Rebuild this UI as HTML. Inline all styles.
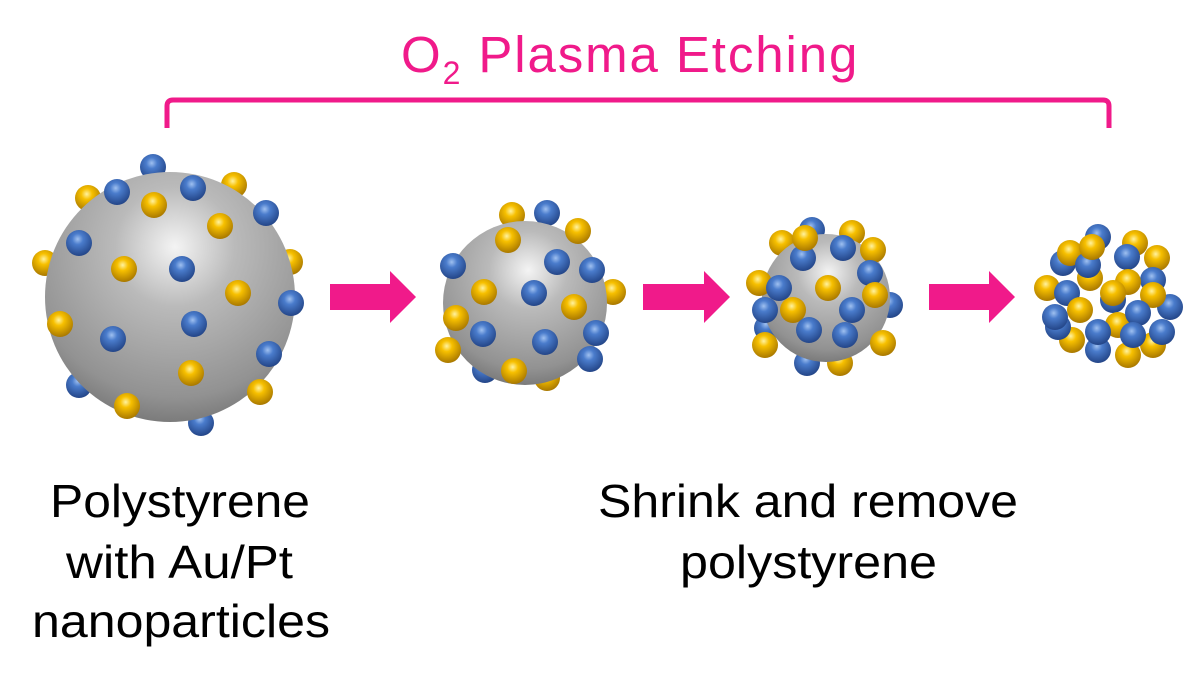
<!DOCTYPE html>
<html><head><meta charset="utf-8"><style>
html,body{margin:0;padding:0;background:#fff;}
svg{display:block;}
text{font-family:"Liberation Sans",Arial,sans-serif;}
</style></head><body>
<svg width="1185" height="680" viewBox="0 0 1185 680" xmlns="http://www.w3.org/2000/svg">
<defs>
<radialGradient id="gs" cx="0.52" cy="0.3" r="0.8">
<stop offset="0" stop-color="#f4f4f4"/><stop offset="0.3" stop-color="#bababa"/><stop offset="0.75" stop-color="#929292"/><stop offset="1" stop-color="#656565"/>
</radialGradient>
<radialGradient id="gb" cx="0.45" cy="0.35" r="0.7">
<stop offset="0" stop-color="#9fc0f0"/><stop offset="0.3" stop-color="#4a7ccc"/><stop offset="1" stop-color="#1f3f80"/>
</radialGradient>
<radialGradient id="gy" cx="0.45" cy="0.35" r="0.7">
<stop offset="0" stop-color="#fff2a0"/><stop offset="0.3" stop-color="#f7c000"/><stop offset="1" stop-color="#a07000"/>
</radialGradient>
</defs>

<text x="401" y="72" font-size="51" fill="#f01a8a" letter-spacing="1.9">O<tspan font-size="32" dy="12">2</tspan><tspan dy="-12"> Plasma Etching</tspan></text>
<path d="M167 128 V106 Q167 100 173 100 H1103 Q1109 100 1109 106 V128" fill="none" stroke="#f01a8a" stroke-width="5"/>

<!-- sphere 1 -->
<g>
<circle cx="153" cy="167" r="13" fill="url(#gb)"/><circle cx="88" cy="198" r="13" fill="url(#gy)"/><circle cx="234" cy="185" r="13" fill="url(#gy)"/><circle cx="45" cy="263" r="13" fill="url(#gy)"/><circle cx="290" cy="262" r="13" fill="url(#gy)"/><circle cx="79" cy="385" r="13" fill="url(#gb)"/><circle cx="201" cy="423" r="13" fill="url(#gb)"/>
<circle cx="170" cy="297" r="125" fill="url(#gs)"/>
<circle cx="117" cy="192" r="13" fill="url(#gb)"/><circle cx="193" cy="188" r="13" fill="url(#gb)"/><circle cx="266" cy="213" r="13" fill="url(#gb)"/><circle cx="79" cy="243" r="13" fill="url(#gb)"/><circle cx="182" cy="269" r="13" fill="url(#gb)"/><circle cx="291" cy="303" r="13" fill="url(#gb)"/><circle cx="194" cy="324" r="13" fill="url(#gb)"/><circle cx="113" cy="339" r="13" fill="url(#gb)"/><circle cx="269" cy="354" r="13" fill="url(#gb)"/>
<circle cx="154" cy="205" r="13" fill="url(#gy)"/><circle cx="220" cy="226" r="13" fill="url(#gy)"/><circle cx="124" cy="269" r="13" fill="url(#gy)"/><circle cx="238" cy="293" r="13" fill="url(#gy)"/><circle cx="60" cy="324" r="13" fill="url(#gy)"/><circle cx="191" cy="373" r="13" fill="url(#gy)"/><circle cx="260" cy="392" r="13" fill="url(#gy)"/><circle cx="127" cy="406" r="13" fill="url(#gy)"/>
</g>

<!-- sphere 2 -->
<g>
<circle cx="547" cy="213" r="13" fill="url(#gb)"/><circle cx="512" cy="215" r="13" fill="url(#gy)"/><circle cx="613" cy="292" r="13" fill="url(#gy)"/><circle cx="485" cy="370" r="13" fill="url(#gb)"/><circle cx="547" cy="378" r="13" fill="url(#gy)"/>
<circle cx="525" cy="303" r="82" fill="url(#gs)"/>
<circle cx="453" cy="266" r="13" fill="url(#gb)"/><circle cx="557" cy="262" r="13" fill="url(#gb)"/><circle cx="592" cy="270" r="13" fill="url(#gb)"/><circle cx="534" cy="293" r="13" fill="url(#gb)"/><circle cx="483" cy="334" r="13" fill="url(#gb)"/><circle cx="596" cy="333" r="13" fill="url(#gb)"/><circle cx="545" cy="342" r="13" fill="url(#gb)"/><circle cx="590" cy="359" r="13" fill="url(#gb)"/>
<circle cx="578" cy="231" r="13" fill="url(#gy)"/><circle cx="508" cy="240" r="13" fill="url(#gy)"/><circle cx="484" cy="292" r="13" fill="url(#gy)"/><circle cx="456" cy="318" r="13" fill="url(#gy)"/><circle cx="574" cy="307" r="13" fill="url(#gy)"/><circle cx="448" cy="350" r="13" fill="url(#gy)"/><circle cx="514" cy="371" r="13" fill="url(#gy)"/>
</g>

<!-- sphere 3 -->
<g>
<circle cx="812" cy="230" r="13" fill="url(#gb)"/><circle cx="782" cy="243" r="13" fill="url(#gy)"/><circle cx="852" cy="233" r="13" fill="url(#gy)"/><circle cx="890" cy="305" r="13" fill="url(#gb)"/><circle cx="807" cy="363" r="13" fill="url(#gb)"/><circle cx="840" cy="363" r="13" fill="url(#gy)"/><circle cx="767" cy="328" r="13" fill="url(#gb)"/>
<circle cx="826" cy="298" r="64" fill="url(#gs)"/>
<circle cx="765" cy="345" r="13" fill="url(#gy)"/>
<circle cx="803" cy="258" r="13" fill="url(#gb)"/><circle cx="805" cy="238" r="13" fill="url(#gy)"/><circle cx="843" cy="248" r="13" fill="url(#gb)"/><circle cx="873" cy="250" r="13" fill="url(#gy)"/><circle cx="870" cy="273" r="13" fill="url(#gb)"/><circle cx="759" cy="283" r="13" fill="url(#gy)"/><circle cx="779" cy="288" r="13" fill="url(#gb)"/><circle cx="765" cy="310" r="13" fill="url(#gb)"/><circle cx="828" cy="288" r="13" fill="url(#gy)"/><circle cx="875" cy="295" r="13" fill="url(#gy)"/><circle cx="852" cy="310" r="13" fill="url(#gb)"/><circle cx="793" cy="310" r="13" fill="url(#gy)"/><circle cx="809" cy="330" r="13" fill="url(#gb)"/><circle cx="845" cy="335" r="13" fill="url(#gb)"/><circle cx="883" cy="343" r="13" fill="url(#gy)"/>
</g>

<!-- cluster 4 -->
<g>
<circle cx="1098" cy="237" r="13" fill="url(#gb)"/><circle cx="1135" cy="243" r="13" fill="url(#gy)"/><circle cx="1063" cy="263" r="13" fill="url(#gb)"/><circle cx="1070" cy="253" r="13" fill="url(#gy)"/><circle cx="1127" cy="257" r="13" fill="url(#gb)"/><circle cx="1157" cy="258" r="13" fill="url(#gy)"/><circle cx="1090" cy="278" r="13" fill="url(#gy)"/><circle cx="1088" cy="265" r="13" fill="url(#gb)"/><circle cx="1092" cy="247" r="13" fill="url(#gy)"/><circle cx="1153" cy="280" r="13" fill="url(#gb)"/><circle cx="1128" cy="282" r="13" fill="url(#gy)"/><circle cx="1047" cy="288" r="13" fill="url(#gy)"/><circle cx="1113" cy="300" r="13" fill="url(#gb)"/><circle cx="1067" cy="293" r="13" fill="url(#gb)"/><circle cx="1113" cy="293" r="13" fill="url(#gy)"/><circle cx="1170" cy="307" r="13" fill="url(#gb)"/><circle cx="1153" cy="295" r="13" fill="url(#gy)"/><circle cx="1080" cy="310" r="13" fill="url(#gy)"/><circle cx="1118" cy="325" r="13" fill="url(#gy)"/><circle cx="1138" cy="313" r="13" fill="url(#gb)"/><circle cx="1072" cy="340" r="13" fill="url(#gy)"/><circle cx="1058" cy="327" r="13" fill="url(#gb)"/><circle cx="1055" cy="317" r="13" fill="url(#gb)"/><circle cx="1153" cy="345" r="13" fill="url(#gy)"/><circle cx="1162" cy="332" r="13" fill="url(#gb)"/><circle cx="1128" cy="355" r="13" fill="url(#gy)"/><circle cx="1098" cy="350" r="13" fill="url(#gb)"/><circle cx="1098" cy="332" r="13" fill="url(#gb)"/><circle cx="1133" cy="335" r="13" fill="url(#gb)"/>
</g>

<!-- arrows -->
<polygon points="330,284 390,284 390,271 416,297 390,323 390,310 330,310" fill="#f01a8a"/>
<polygon points="643,284 704,284 704,271 730,297 704,323 704,310 643,310" fill="#f01a8a"/>
<polygon points="929,284 989,284 989,271 1015,297 989,323 989,310 929,310" fill="#f01a8a"/>

<g font-size="46" fill="#000">
<text x="50" y="517" textLength="260" lengthAdjust="spacingAndGlyphs">Polystyrene</text>
<text x="66" y="578" textLength="227" lengthAdjust="spacingAndGlyphs">with Au/Pt</text>
<text x="32" y="637" textLength="298" lengthAdjust="spacingAndGlyphs">nanoparticles</text>
<text x="598" y="517" textLength="420" lengthAdjust="spacingAndGlyphs">Shrink and remove</text>
<text x="680" y="578" textLength="257" lengthAdjust="spacingAndGlyphs">polystyrene</text>
</g>
</svg>
</body></html>
